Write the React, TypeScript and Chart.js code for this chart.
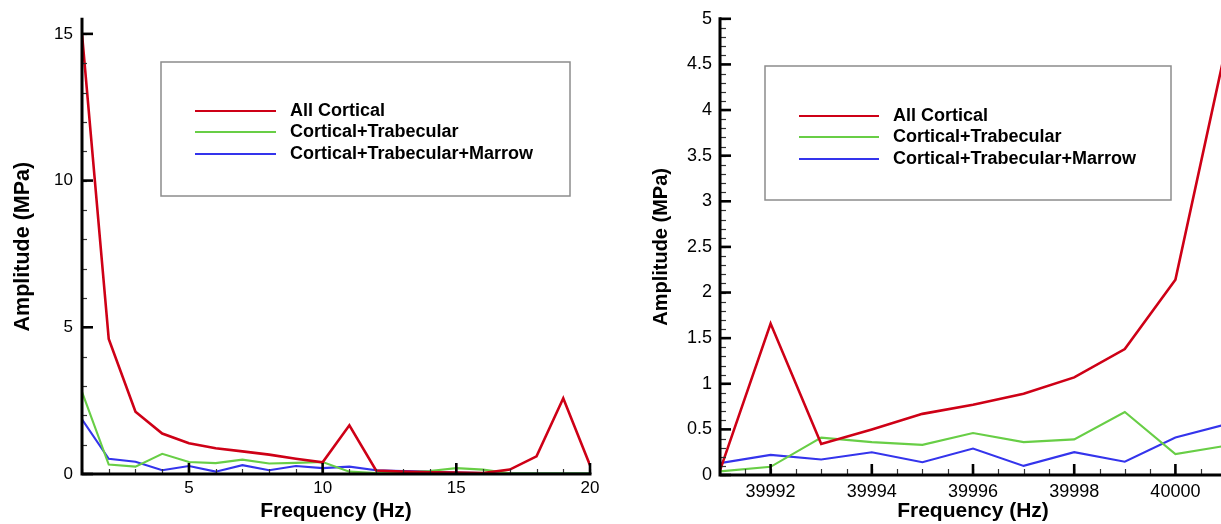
import React, { useEffect, useRef } from 'react';
import { Chart, registerables } from 'chart.js';

Chart.register(...registerables);

const FONT = '"Liberation Sans", Arial, Helvetica, sans-serif';

// ---------- data ----------
const seriesLabels = ['All Cortical', 'Cortical+Trabecular', 'Cortical+Trabecular+Marrow'];
const seriesColors = ['rgb(206,0,22)', 'rgb(104,206,70)', 'rgb(52,52,236)'];

const leftFreq = [1, 2, 3, 4, 5, 6, 7, 8, 9, 10, 11, 12, 13, 14, 15, 16, 17, 18, 19, 20];
const leftAllCortical = [15.0, 4.6, 2.12, 1.38, 1.05, 0.88, 0.77, 0.66, 0.52, 0.4, 1.66, 0.12, 0.08, 0.06, 0.05, 0.03, 0.15, 0.6, 2.58, 0.3];
const leftCorticalTrabecular = [2.8, 0.32, 0.25, 0.69, 0.41, 0.37, 0.49, 0.36, 0.38, 0.41, 0.08, 0.03, 0.05, 0.1, 0.2, 0.15, 0.02, 0.02, 0.02, 0.02];
const leftCorticalTrabecularMarrow = [1.86, 0.52, 0.42, 0.13, 0.27, 0.08, 0.3, 0.13, 0.27, 0.2, 0.25, 0.13, 0.1, 0.08, 0.05, 0.03, 0.02, 0.02, 0.02, 0.02];
const leftXTicks = [5, 10, 15, 20];
const leftYTicks = [0, 5, 10, 15];

const rightFreq = [39991, 39992, 39993, 39994, 39995, 39996, 39997, 39998, 39999, 40000, 40001];
const rightAllCortical = [0.05, 1.66, 0.34, 0.5, 0.67, 0.77, 0.89, 1.07, 1.38, 2.14, 4.69];
const rightCorticalTrabecular = [0.04, 0.09, 0.41, 0.36, 0.33, 0.46, 0.36, 0.39, 0.69, 0.23, 0.32];
const rightCorticalTrabecularMarrow = [0.13, 0.22, 0.17, 0.25, 0.14, 0.29, 0.1, 0.25, 0.145, 0.41, 0.555];
const rightXTicks = [39992, 39994, 39996, 39998, 40000];
const rightYTicks = [0, 0.5, 1, 1.5, 2, 2.5, 3, 3.5, 4, 4.5, 5];

const seriesWidths = [2.6, 2.1, 2.1];

// ---------- plugin: inward ticks, axis lines, boxed legend ----------
const axisDecor = {
  id: 'axisDecor',
  afterDraw(chart: any, _args: any, opts: any) {
    const { ctx, chartArea: ca, scales } = chart;
    const xs = scales.x;
    const ys = scales.y;
    ctx.save();
    ctx.strokeStyle = '#000';

    const minorVals = (scale: any, step: number) => {
      const out: number[] = [];
      const n = Math.floor((scale.max - scale.min) / step + 1e-6);
      for (let i = 0; i <= n; i++) out.push(scale.min + i * step);
      return out;
    };

    // minor ticks
    ctx.lineWidth = 1.2;
    ctx.strokeStyle = '#333';
    minorVals(xs, opts.xMinor).forEach((v) => {
      const px = Math.round(xs.getPixelForValue(v)) + 0.5;
      ctx.beginPath();
      ctx.moveTo(px, ca.bottom);
      ctx.lineTo(px, ca.bottom - opts.minorLen);
      ctx.stroke();
    });
    minorVals(ys, opts.yMinor).forEach((v) => {
      const py = Math.round(ys.getPixelForValue(v)) + 0.5;
      ctx.beginPath();
      ctx.moveTo(ca.left, py);
      ctx.lineTo(ca.left + opts.minorLen, py);
      ctx.stroke();
    });

    // major ticks
    ctx.lineWidth = 2.6;
    ctx.strokeStyle = '#000';
    xs.ticks.forEach((t: any) => {
      const px = xs.getPixelForValue(t.value);
      ctx.beginPath();
      ctx.moveTo(px, ca.bottom);
      ctx.lineTo(px, ca.bottom - opts.majorLen);
      ctx.stroke();
    });
    ys.ticks.forEach((t: any) => {
      const py = ys.getPixelForValue(t.value);
      ctx.beginPath();
      ctx.moveTo(ca.left, py);
      ctx.lineTo(ca.left + opts.majorLen, py);
      ctx.stroke();
    });

    // axis lines
    ctx.lineWidth = 3;
    ctx.lineCap = 'square';
    ctx.beginPath();
    ctx.moveTo(ca.left, ca.top);
    ctx.lineTo(ca.left, ca.bottom);
    ctx.lineTo(ca.right, ca.bottom);
    ctx.stroke();

    // legend
    const lg = opts.legend;
    ctx.lineCap = 'butt';
    ctx.lineWidth = 1.5;
    ctx.strokeStyle = '#8c8c8c';
    ctx.strokeRect(lg.x, lg.y, lg.w, lg.h);
    ctx.font = `bold ${lg.fontSize}px ${FONT}`;
    ctx.textBaseline = 'middle';
    ctx.textAlign = 'left';
    ctx.fillStyle = '#000';
    chart.data.datasets.forEach((ds: any, i: number) => {
      const yy = lg.rows[i];
      ctx.strokeStyle = ds.borderColor;
      ctx.lineWidth = 2.2;
      ctx.beginPath();
      ctx.moveTo(lg.lineX1, yy);
      ctx.lineTo(lg.lineX2, yy);
      ctx.stroke();
      ctx.fillText(ds.label, lg.textX, yy);
    });
    ctx.restore();
  },
};

function buildConfig(spec: any) {
  const datasets = spec.series.map((vals: number[], i: number) => ({
    label: seriesLabels[i],
    data: spec.freq.map((f: number, j: number) => ({ x: f, y: vals[j] })),
    borderColor: seriesColors[i],
    backgroundColor: seriesColors[i],
    borderWidth: seriesWidths[i],
    pointRadius: 0,
    tension: 0,
    fill: false,
  }));
  return {
    type: 'line',
    data: { datasets },
    options: {
      animation: false,
      responsive: false,
      devicePixelRatio: 1,
      events: [],
      layout: { padding: spec.padding },
      plugins: {
        legend: { display: false },
        tooltip: { enabled: false },
        axisDecor: spec.decor,
      },
      scales: {
        x: {
          type: 'linear',
          min: spec.xMin,
          max: spec.xMax,
          afterBuildTicks: (s: any) => {
            s.ticks = spec.xTicks.map((v: number) => ({ value: v }));
          },
          afterFit: (s: any) => {
            s.height = spec.xAxisHeight;
          },
          grid: { display: false, drawTicks: false },
          border: { display: false },
          ticks: {
            autoSkip: false,
            maxRotation: 0,
            padding: spec.xTickPad,
            color: '#000',
            font: { family: FONT, size: spec.tickSize },
            callback: (v: any) => String(v),
          },
          title: {
            display: true,
            text: 'Frequency (Hz)',
            color: '#000',
            font: { family: FONT, size: spec.xTitleSize, weight: 'bold' },
            padding: { top: 0, bottom: spec.xTitlePad },
          },
        },
        y: {
          type: 'linear',
          min: spec.yMin,
          max: spec.yMax,
          afterBuildTicks: (s: any) => {
            s.ticks = spec.yTicks.map((v: number) => ({ value: v }));
          },
          afterFit: (s: any) => {
            s.width = spec.yAxisWidth;
          },
          grid: { display: false, drawTicks: false },
          border: { display: false },
          ticks: {
            autoSkip: false,
            padding: spec.yTickPad,
            color: '#000',
            font: { family: FONT, size: spec.tickSize },
            callback: (v: any) => String(v),
          },
          title: {
            display: true,
            text: 'Amplitude (MPa)',
            color: '#000',
            font: { family: FONT, size: spec.yTitleSize, weight: 'bold' },
            padding: { top: spec.yTitlePad, bottom: 0 },
          },
        },
      },
    },
    plugins: [axisDecor],
  };
}

const leftSpec = {
  freq: leftFreq,
  series: [leftAllCortical, leftCorticalTrabecular, leftCorticalTrabecularMarrow],
  xMin: 1,
  xMax: 20,
  yMin: 0,
  yMax: 15.5,
  xTicks: leftXTicks,
  yTicks: leftYTicks,
  padding: { left: 0, right: 20, top: 10, bottom: 0 },
  xAxisHeight: 50,
  yAxisWidth: 82,
  xTickPad: 4,
  yTickPad: 9,
  tickSize: 17,
  xTitleSize: 21,
  yTitleSize: 21.5,
  xTitlePad: 0,
  yTitlePad: 10,
  decor: {
    xMinor: 1,
    yMinor: 1,
    minorLen: 5,
    majorLen: 11,
    legend: {
      x: 161, y: 62, w: 409, h: 134,
      lineX1: 195, lineX2: 276, textX: 290,
      rows: [111, 132, 154],
      fontSize: 18,
    },
  },
};

const rightSpec = {
  freq: rightFreq,
  series: [rightAllCortical, rightCorticalTrabecular, rightCorticalTrabecularMarrow],
  xMin: 39991,
  xMax: 40001,
  yMin: 0,
  yMax: 5,
  xTicks: rightXTicks,
  yTicks: rightYTicks,
  padding: { left: 0, right: 14, top: 15, bottom: 0 },
  xAxisHeight: 49,
  yAxisWidth: 100,
  xTickPad: 6,
  yTickPad: 8,
  tickSize: 18,
  xTitleSize: 21,
  yTitleSize: 20,
  xTitlePad: 0,
  yTitlePad: 29,
  decor: {
    xMinor: 0.5,
    yMinor: 0.1,
    minorLen: 6,
    majorLen: 11,
    legend: {
      x: 145, y: 66, w: 406, h: 134,
      lineX1: 179, lineX2: 259, textX: 273,
      rows: [116, 137, 159],
      fontSize: 18,
    },
  },
};

function FreqChart({ spec, left, width, height }: { spec: any; left: number; width: number; height: number }) {
  const ref = useRef<HTMLCanvasElement>(null);
  useEffect(() => {
    if (!ref.current) return;
    const chart = new Chart(ref.current, buildConfig(spec) as any);
    return () => chart.destroy();
  }, [spec]);
  return (
    <canvas
      ref={ref}
      width={width}
      height={height}
      style={{ position: 'absolute', left, top: 0, width, height }}
    />
  );
}

export default function App() {
  return (
    <div
      style={{
        position: 'fixed',
        left: 0,
        top: 0,
        width: 1221,
        height: 524,
        overflow: 'hidden',
        background: '#fff',
      }}
    >
      <FreqChart spec={leftSpec} left={0} width={610} height={524} />
      <FreqChart spec={rightSpec} left={620} width={620} height={524} />
    </div>
  );
}
